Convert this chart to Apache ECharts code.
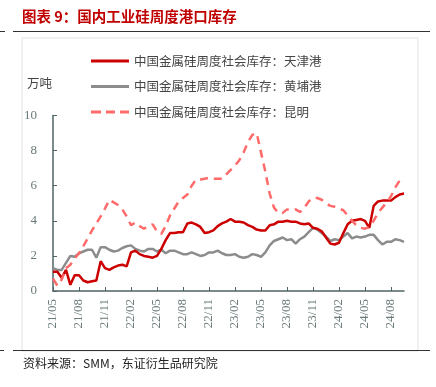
<!DOCTYPE html>
<html><head><meta charset="utf-8">
<script src="https://cdn.jsdelivr.net/npm/echarts@6/dist/echarts.min.js"></script>
<style>html,body{margin:0;padding:0;background:#fff}#c{width:436px;height:387px}</style>
</head><body><div id="c"></div>
<script>
// x: months since 2021/05, sampled every half month
const STEP = 0.5;
const tickLabels = ['21/05','21/08','21/11','22/02','22/05','22/08','22/11','23/02','23/05','23/08','23/11','24/02','24/05','24/08'];
const seriesNames = ['中国金属硅周度社会库存：天津港','中国金属硅周度社会库存：黄埔港','中国金属硅周度社会库存：昆明'];
const tianjin = [1.1,1.1,0.75,1.2,0.35,0.9,0.9,0.6,0.5,0.55,0.6,1.7,1.3,1.2,1.35,1.45,1.5,1.4,2.2,2.3,
  2.1,2.0,1.95,1.9,2.0,2.4,2.9,3.3,3.3,3.35,3.35,3.85,3.9,3.8,3.65,3.3,3.35,3.45,3.7,3.85,
  3.95,4.1,3.95,3.95,3.9,3.75,3.65,3.5,3.45,3.45,3.75,3.8,3.95,3.95,4.0,3.95,3.95,3.85,3.8,3.85,
  3.6,3.55,3.4,3.05,2.7,2.65,2.75,3.3,3.8,4.0,4.05,4.1,4.0,3.6,4.85,5.1,5.15,5.15,5.15,5.35,5.5,5.55];
const huangpu = [1.3,1.2,1.2,1.6,2.0,1.95,2.15,2.25,2.35,2.35,1.9,2.5,2.5,2.35,2.25,2.3,2.45,2.55,2.6,2.4,
  2.3,2.25,2.4,2.4,2.25,2.35,2.15,2.3,2.3,2.2,2.1,2.1,2.2,2.1,2.0,2.05,2.2,2.2,2.3,2.15,
  2.05,2.05,2.1,1.95,1.9,1.95,2.1,2.05,1.95,2.2,2.6,2.85,2.95,3.05,2.9,2.95,2.7,2.95,3.1,3.35,
  3.6,3.5,3.3,3.1,2.85,2.95,2.9,3.1,3.3,3.0,3.1,3.05,3.1,3.2,3.2,2.9,2.65,2.8,2.8,2.95,2.9,2.8];
const kunming = [0.7,0.3,0.65,1.3,1.5,1.85,2.15,2.55,3.0,3.45,3.85,4.25,4.7,5.2,5.05,4.9,4.65,4.25,3.75,3.9,
  3.7,3.55,3.7,3.8,3.4,3.25,3.7,4.3,4.7,5.1,5.3,5.5,6.0,6.35,6.35,6.4,6.45,6.4,6.4,6.4,
  6.65,6.9,7.15,7.45,7.9,8.5,8.9,9.0,7.9,6.8,5.55,4.75,4.45,4.45,4.65,4.6,4.65,4.5,4.75,5.1,
  5.3,5.3,5.2,5.0,4.85,4.8,4.7,4.6,4.3,4.0,3.75,3.6,3.55,3.65,4.0,4.45,4.75,5.05,5.4,5.9,6.3,6.5];
const yTicks = [0,2,4,6,8,10];

const pair = arr => arr.map((v,i)=>[i*STEP, v]);
const xMax = (tianjin.length-1)*STEP;
const axisColor = '#4f6464';
const serif = '"Liberation Serif","Times New Roman",serif';
const cjk = '"Noto Sans CJK SC",sans-serif';
const colors = ['#cc0000','#8c8c8c','#ff6b6b'];
const solidIcon = 'path://M0,0h38v3h-38z';
const dashIcon = 'path://M0,0h10v3h-10z M15,0h9v3h-9z M29,0h9v3h-9z';

const chart = echarts.init(document.getElementById('c'), null, {renderer:'canvas'});
chart.setOption({
  backgroundColor:'#fff',
  animation:false,
  grid:{left:53, right:32, top:115.5, bottom:96, containLabel:false},
  legend:{
    orient:'vertical', left:86, top:49, itemWidth:38, itemHeight:3, itemGap:11.5,
    textStyle:{fontFamily:cjk, fontSize:12.5, color:'#444', lineHeight:14},
    data:[
      {name:seriesNames[0], icon:solidIcon, itemStyle:{color:colors[0]}},
      {name:seriesNames[1], icon:solidIcon, itemStyle:{color:colors[1]}},
      {name:seriesNames[2], icon:dashIcon, itemStyle:{color:colors[2]}}
    ]
  },
  xAxis:{
    type:'value', min:0, max:xMax, interval:3,
    axisLine:{lineStyle:{color:axisColor, width:1.5}},
    axisTick:{inside:true, length:4, lineStyle:{color:axisColor}},
    splitLine:{show:false},
    axisLabel:{rotate:90, margin:8, fontFamily:serif, fontSize:13, color:'#6a7a7a',
      formatter:v=>{const k=Math.round(v/3); return (Math.abs(v-k*3)<1e-6 && tickLabels[k])?tickLabels[k]:'';},
      showMaxLabel:false}
  },
  yAxis:{
    type:'value', min:0, max:10, interval:2,
    axisLine:{show:true, lineStyle:{color:axisColor, width:1.5}},
    axisTick:{show:true, inside:true, length:4, lineStyle:{color:axisColor}},
    splitLine:{show:false},
    axisLabel:{fontFamily:serif, fontSize:13, color:'#6a7a7a', margin:16,
      formatter:v=>yTicks.includes(v)?String(v):''}
  },
  series:[
    {name:seriesNames[1], type:'line', data:pair(huangpu), showSymbol:false, symbol:'none', z:2,
      lineStyle:{color:colors[1], width:2.5}, itemStyle:{color:colors[1]}},
    {name:seriesNames[0], type:'line', data:pair(tianjin), showSymbol:false, symbol:'none', z:3,
      lineStyle:{color:colors[0], width:2.5}, itemStyle:{color:colors[0]}},
    {name:seriesNames[2], type:'line', data:pair(kunming), showSymbol:false, symbol:'none', z:4,
      lineStyle:{color:colors[2], width:2.5, type:[8,6]}, itemStyle:{color:colors[2]}}
  ],
  graphic:[
    {type:'text', left:22, top:9, style:{text:'图表 9：国内工业硅周度港口库存', fontFamily:cjk, fontWeight:'bold', fontSize:14.5, fill:'#c00000'}},
    {type:'line', shape:{x1:0,y1:31.5,x2:5,y2:31.5}, style:{stroke:'#333', lineWidth:1}},
    {type:'line', shape:{x1:13,y1:31.5,x2:430,y2:31.5}, style:{stroke:'#333', lineWidth:1}},
    {type:'rect', shape:{x:22,y:38,width:396,height:313}, style:{fill:'none', stroke:'#e3e3e3', lineWidth:1}, z:-1},
    {type:'text', left:27, top:77, style:{text:'万吨', fontFamily:cjk, fontSize:12.5, fill:'#444'}},
    {type:'line', shape:{x1:0,y1:350.5,x2:4,y2:350.5}, style:{stroke:'#333', lineWidth:1}},
    {type:'line', shape:{x1:13,y1:350.5,x2:430,y2:350.5}, style:{stroke:'#333', lineWidth:1}},
    {type:'text', left:23, top:357, style:{text:'资料来源：SMM，东证衍生品研究院', fontFamily:cjk, fontSize:12, fill:'#222'}}
  ]
});
</script></body></html>
